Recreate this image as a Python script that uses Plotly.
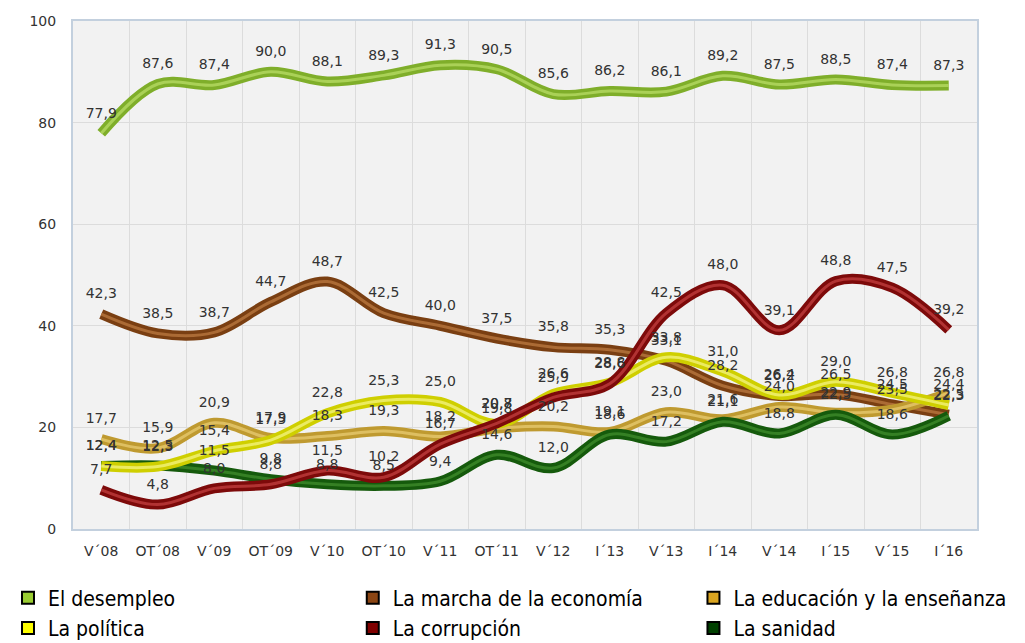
import plotly.graph_objects as go

categories = ["V´08", "OT´08", "V´09", "OT´09", "V´10", "OT´10", "V´11", "OT´11",
              "V´12", "I´13", "V´13", "I´14", "V´14", "I´15", "V´15", "I´16"]

desempleo = [77.9, 87.6, 87.4, 90.0, 88.1, 89.3, 91.3, 90.5, 85.6, 86.2, 86.1, 89.2, 87.5, 88.5, 87.4, 87.3]
economia = [42.3, 38.5, 38.7, 44.7, 48.7, 42.5, 40.0, 37.5, 35.8, 35.3, 33.1, 28.2, 26.2, 26.5, 24.5, 22.5]
educacion = [17.7, 15.9, 20.9, 17.9, 18.3, 19.3, 18.2, 19.8, 20.2, 19.1, 23.0, 21.6, 24.0, 22.9, 23.5, 26.8]
politica = [12.4, 12.3, 15.4, 17.5, 22.8, 25.3, 25.0, 20.7, 26.6, 28.8, 33.8, 31.0, 26.4, 29.0, 26.8, 24.4]
corrupcion = [7.7, 4.8, 8.0, 8.8, 11.5, 10.2, 16.7, 20.8, 25.9, 28.6, 42.5, 48.0, 39.1, 48.8, 47.5, 39.2]
sanidad = [12.4, 12.5, 11.5, 9.8, 8.8, 8.5, 9.4, 14.6, 12.0, 18.6, 17.2, 21.1, 18.8, 22.5, 18.6, 22.3]

series = [
    ("El desempleo", desempleo, "#7fae2a", "#b5da63", "#9acd32", "legend"),
    ("La marcha de la economía", economia, "#7a3f12", "#b8763e", "#8b4513", "legend2"),
    ("La educación y la enseñanza", educacion, "#bf9a30", "#e6c96e", "#daa520", "legend3"),
    ("La política", politica, "#cfcf00", "#f2f27a", "#ffff00", "legend"),
    ("La corrupción", corrupcion, "#7d0a0a", "#bf3c3c", "#800000", "legend2"),
    ("La sanidad", sanidad, "#155a0c", "#3d8a2a", "#004000", "legend3"),
]

draw_order = [0, 1, 2, 5, 3, 4]

fig = go.Figure()

for i in draw_order:
    name, vals, dark, light, _, _ = series[i]
    fig.add_trace(go.Scatter(x=categories, y=vals, mode="lines",
                             line=dict(color=dark, width=10, shape="spline", smoothing=1.0),
                             showlegend=False, hoverinfo="skip"))
    fig.add_trace(go.Scatter(x=categories, y=vals, mode="lines",
                             line=dict(color=light, width=3, shape="spline", smoothing=1.0),
                             opacity=0.8, showlegend=False, hoverinfo="skip"))

for i in draw_order:
    name, vals, dark, light, _, _ = series[i]
    fig.add_trace(go.Scatter(x=categories, y=vals, mode="markers+text",
                             marker=dict(size=18, opacity=0),
                             text=[f"{v:.1f}".replace(".", ",") for v in vals],
                             textposition="top center",
                             textfont=dict(family="DejaVu Sans", size=14, color="#333333"),
                             showlegend=False, hoverinfo="skip"))

for name, vals, dark, light, swatch, leg in series:
    fig.add_trace(go.Scatter(x=[None], y=[None], mode="markers", name=name, legend=leg,
                             marker=dict(symbol="square", size=20, color=swatch,
                                         line=dict(color="#000000", width=1.5))))

leg_common = dict(orientation="v", xref="container", yref="container",
                  y=0.103, xanchor="left", yanchor="top",
                  font=dict(family="DejaVu Sans Condensed", size=21, color="#000000"),
                  itemsizing="constant", bgcolor="rgba(0,0,0,0)", tracegroupgap=0)

fig.update_layout(
    width=1017, height=635,
    paper_bgcolor="#ffffff",
    plot_bgcolor="#f2f2f2",
    margin=dict(l=65, r=48, t=13, b=114, autoexpand=False),
    font=dict(family="DejaVu Sans", color="#333333"),
    showlegend=True,
    legend=dict(x=0.0, **leg_common),
    legend2=dict(x=0.339, **leg_common),
    legend3=dict(x=0.674, **leg_common),
    xaxis=dict(type="category", tickson="boundaries", ticks="",
               showgrid=True, gridcolor="#dcdcdc", gridwidth=1,
               showline=True, linecolor="#c3d0de", linewidth=2, mirror=True,
               tickfont=dict(family="DejaVu Sans", size=14, color="#333333"),
               ticklabelstandoff=8, range=[-0.5, 15.5]),
    yaxis=dict(range=[0, 100], tickvals=[0, 20, 40, 60, 80, 100], ticks="",
               showgrid=True, gridcolor="#dcdcdc", gridwidth=1, zeroline=False,
               showline=True, linecolor="#c3d0de", linewidth=2, mirror=True,
               tickfont=dict(family="DejaVu Sans", size=14, color="#333333"),
               ticklabelstandoff=12),
)

fig.write_html("out.html")
